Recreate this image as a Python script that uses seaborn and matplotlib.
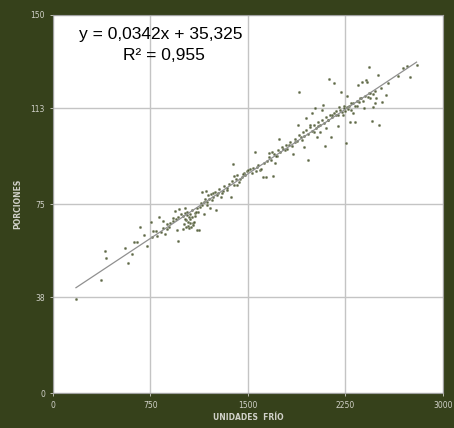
import numpy as np
import pandas as pd
import matplotlib
matplotlib.use('Agg')
import matplotlib.pyplot as plt
import seaborn as sns

# datos
unidades_frio = [
    179, 371, 399, 410, 558, 579, 609, 625, 650, 671, 704, 725, 753, 760, 773, 794,
    819, 845, 863, 876, 896, 922, 937, 952, 960, 973, 998, 1016, 1024, 1034, 1042, 1055,
    1067, 1080, 1093, 1106, 1124, 1144, 1162, 1178, 1188, 1208, 1221, 1234, 1254, 1272,
    1290, 1311, 1336, 1367, 1382, 1395, 1413, 1434, 1452, 1472, 1495, 1528, 1554, 1567,
    1592, 1618, 1636, 1664, 1682, 1695, 1708, 1720, 1741, 1759, 1784, 1818, 1848, 1861,
    1882, 1894, 1912, 1930, 1946, 1964, 1976, 1989, 2007, 2017, 2028, 2040, 2053, 2066,
    2079, 2089, 2099, 2112, 2125, 2138, 2150, 2163, 2176, 2189, 2202, 2212, 2227, 2240,
    2253, 2258, 2271, 2284, 2296, 2309, 2322, 2335, 2348, 2360, 2373, 2391, 2406, 2417,
    2427, 2432, 2442, 2450, 2463, 2476, 2488, 2501, 2509, 2534, 2565, 2693, 2724, 2745,
    2796,
    1005, 1010, 1015, 1020, 1028, 1030, 1038, 1045, 1048, 1052, 1058, 1062, 1070, 1075,
    1085, 1090, 1100, 1110, 1120, 1130, 1140, 1150, 1160, 1170, 1185, 1195, 1200, 1215,
    1230, 1245, 1260, 1280, 1300, 1320, 1340, 1355, 1375, 1390, 1405, 1420, 1440, 1460,
    1480, 1500, 1515, 1540, 1560, 1580, 1600, 1620, 1645, 1660, 1680, 1700, 1715, 1730,
    1750, 1770, 1790, 1800, 1825, 1840, 1860, 1875, 1890, 1905, 1920, 1935, 1950, 1965,
    1980, 1995, 2010, 2025, 2040, 2055, 2070, 2085, 2100, 2115, 2130, 2145, 2160, 2175,
    2190, 2205, 2220, 2235, 2250, 2265, 2280, 2295, 2310, 2325, 2340, 2355, 2370, 2385,
    2400, 2420, 2440, 2460, 2480, 2520, 2580, 2650,
    800, 830, 850, 880, 905, 925, 945, 965, 985,
]
porciones = [
    37.3, 45.0, 56.6, 53.8, 57.8, 51.8, 55.1, 59.8, 59.9, 66.0, 62.7, 58.4, 67.8, 61.9, 64.5, 64.4,
    70.0, 68.5, 63.0, 65.3, 66.1, 69.5, 72.4, 64.8, 60.4, 73.0, 65.0, 73.4, 68.7, 70.7, 66.4, 67.7,
    72.7, 66.8, 71.4, 64.8, 64.8, 80.0, 71.0, 80.4, 74.7, 73.4, 76.7, 78.0, 72.7, 79.3,
    78.0, 80.4, 80.6, 78.0, 90.8, 86.2, 82.6, 83.9, 85.9, 87.5, 88.3, 87.3, 95.8, 89.9,
    88.6, 85.9, 85.9, 95.2, 95.8, 86.2, 91.2, 93.9, 100.7, 97.8, 96.5, 98.4, 94.9, 99.8,
    106.3, 119.5, 100.5, 97.8, 109.0, 92.5, 106.4, 111.0, 103.8, 113.0, 101.8, 105.8, 103.8, 112.4,
    114.4, 98.1, 105.1, 108.4, 124.7, 101.8, 110.4, 123.2, 110.4, 106.0, 113.7, 119.6, 110.4, 113.9,
    99.4, 117.7, 112.6, 107.7, 115.0, 111.0, 107.7, 113.9, 122.3, 117.0, 123.6, 113.0, 124.3, 123.6,
    129.2, 119.0, 117.0, 108.1, 113.7, 115.0, 117.0, 126.2, 106.4, 115.6, 118.3, 128.9, 129.8, 125.6,
    130.2,
    70.5, 67.0, 69.0, 71.5, 66.0, 72.0, 68.0, 70.0, 65.5, 71.0, 69.0, 66.0, 70.0, 67.5,
    68.0, 70.5, 72.0, 73.5, 72.0, 74.0, 75.5, 74.5, 76.0, 77.0, 76.0, 78.5, 77.0, 79.0,
    79.5, 80.0, 78.5, 81.0, 79.5, 82.0, 81.5, 83.0, 84.0, 82.5, 85.0, 86.5, 85.0, 87.0,
    86.5, 88.5, 89.0, 89.5, 88.0, 90.5, 89.0, 91.5, 92.0, 93.5, 92.5, 95.0, 94.0, 96.5,
    95.5, 97.0, 98.5, 97.0, 99.5, 98.0, 101.0, 100.0, 102.5, 101.5, 103.5, 102.0, 104.5, 103.0,
    105.5, 104.0, 106.5, 105.0, 107.5, 106.5, 108.5, 107.0, 109.5, 108.5, 110.5, 109.5, 111.0, 112.0,
    110.5, 112.5, 111.5, 113.0, 112.0, 113.5, 114.0, 112.5, 115.0, 114.0, 116.0, 115.5, 117.0, 116.0,
    118.0, 117.5, 119.0, 118.5, 120.0, 121.0, 123.0, 126.0,
    62.5, 64.0, 65.5, 67.0, 67.5, 68.5, 69.0, 70.0, 71.0,
]
x_ticks = [0, 750, 1500, 2250, 3000]
y_ticks = [0, 38, 75, 113, 150]

df = pd.DataFrame({'UNIDADES FRÍO': unidades_frio, 'PORCIONES': porciones})

fondo = '#36411b'
texto = '#d0d0c8'

fig = plt.figure(figsize=(4.54, 4.28), dpi=100, facecolor=fondo)
ax = fig.add_axes([0.116, 0.081, 0.86, 0.884])
ax.set_facecolor('white')

sns.regplot(data=df, x='UNIDADES FRÍO', y='PORCIONES', ax=ax, ci=None,
            scatter_kws={'s': 4, 'color': '#34421a', 'edgecolor': '#d8d8c8', 'linewidths': 0.25},
            line_kws={'color': '#909090', 'linewidth': 0.9})

ax.set_xlim(0, 3000)
ax.set_ylim(0, 150)
ax.set_xticks(x_ticks)
ax.set_yticks(y_ticks)
ax.grid(True, color='#c4c4c4', linewidth=1.0)
ax.set_axisbelow(True)
for s in ax.spines.values():
    s.set_color('#a0a0a0')
    s.set_linewidth(0.8)
ax.tick_params(colors=texto, labelsize=5.5, length=2, width=0.6)
ax.set_xlabel('UNIDADES  FRÍO', color=texto, fontsize=5.5, fontweight='bold', labelpad=2)
ax.set_ylabel('PORCIONES', color=texto, fontsize=5.5, fontweight='bold', labelpad=6)

ax.text(0.067, 0.949, 'y = 0,0342x + 35,325', transform=ax.transAxes,
        fontsize=12.5, family='Liberation Sans', va='center', ha='left')
ax.text(0.284, 0.894, 'R² = 0,955', transform=ax.transAxes,
        fontsize=12.5, family='Liberation Sans', va='center', ha='center')

fig.savefig('out.png', dpi=100, facecolor=fondo)
